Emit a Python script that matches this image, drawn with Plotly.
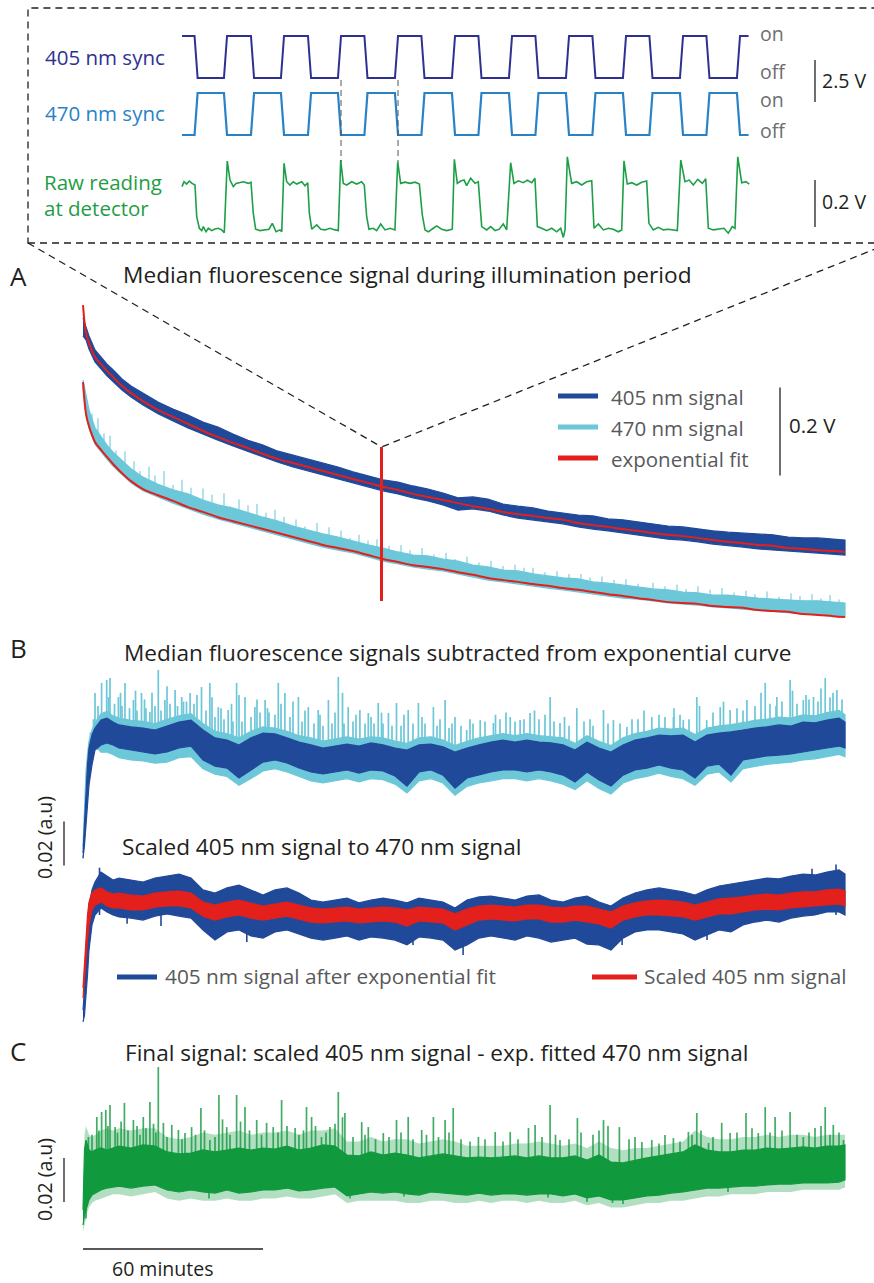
import plotly.graph_objects as go

W, H = 874, 1283
FONT = "Open Sans"

# ---------------- data ----------------
# Session time (minutes) for the long recordings
t_a = [0, 1, 2, 4, 6, 8, 10, 13, 16, 20, 25, 30, 35, 40, 45, 50, 55, 60, 65, 70, 75, 80, 85, 90, 95,
       100, 105, 110, 115, 120, 125, 130, 135, 140, 145, 150, 155, 160, 165, 170, 175, 180, 185, 190,
       195, 200, 205, 210, 215, 220, 225, 230, 235, 240, 245, 250, 254]

# Panel A: median raw fluorescence (mV), envelope of the noisy trace and exponential fits
sig405_hi = [698, 677, 657, 625, 609, 593, 580, 559, 543, 527, 507, 491, 477, 461, 450, 434, 420, 409, 395,
             386, 377, 368, 359, 348, 339, 330, 325, 316, 309, 300, 289, 291, 286, 275, 270, 266, 259, 255,
             250, 248, 241, 239, 234, 230, 225, 223, 218, 214, 211, 209, 207, 205, 200, 198, 198, 195, 193]
sig405_lo = [657, 648, 627, 598, 582, 566, 552, 534, 518, 500, 480, 464, 448, 434, 420, 407, 395, 382, 370,
             359, 350, 341, 332, 323, 314, 305, 298, 289, 282, 273, 261, 264, 259, 250, 243, 239, 234, 230,
             223, 218, 214, 209, 205, 200, 195, 193, 189, 184, 180, 177, 173, 170, 168, 166, 164, 161, 159]
fit405 = [727, 664, 641, 609, 593, 577, 564, 543, 527, 509, 489, 473, 457, 441, 427, 414, 402, 389, 377,
          368, 359, 350, 341, 332, 323, 314, 307, 298, 291, 284, 277, 270, 264, 257, 252, 248, 243, 239,
          232, 227, 223, 218, 214, 209, 205, 202, 198, 193, 189, 186, 182, 180, 175, 173, 170, 168, 166]
sig470_hi = [557, 520, 489, 448, 427, 409, 393, 373, 355, 336, 320, 307, 298, 284, 273, 266, 255, 245, 236,
             225, 216, 207, 200, 191, 182, 175, 166, 159, 157, 150, 145, 136, 132, 125, 123, 116, 111, 107,
             105, 98, 95, 91, 86, 82, 80, 75, 73, 68, 68, 64, 61, 59, 57, 55, 55, 52, 50]
sig470_lo = [543, 475, 448, 411, 393, 377, 361, 341, 323, 305, 291, 277, 264, 252, 241, 232, 223, 214, 205,
             195, 186, 177, 170, 164, 155, 145, 139, 132, 127, 123, 116, 109, 102, 98, 93, 89, 84, 80,
             75, 70, 66, 61, 59, 55, 50, 48, 45, 41, 39, 36, 32, 30, 27, 25, 23, 20, 18]
fit470 = [552, 480, 452, 416, 398, 382, 366, 345, 327, 309, 295, 282, 268, 257, 245, 236, 227, 218, 209,
          200, 191, 182, 175, 168, 159, 150, 143, 136, 132, 127, 120, 114, 107, 102, 98, 93, 89, 84,
          80, 75, 70, 66, 61, 57, 52, 50, 48, 43, 41, 39, 34, 32, 30, 25, 23, 20, 18]
spk470a_t = [5, 9, 14, 22, 27, 33, 40, 47, 52, 58, 64, 71, 78, 86, 92, 98, 106, 113, 121, 128, 136, 144,
             150, 158, 166, 173, 181, 190, 198, 205, 213, 221, 228, 236, 243, 249,
             3, 7, 11, 17, 19, 24, 30, 36, 43, 49, 55, 61, 67, 74, 82, 89, 95, 102, 109, 117, 124, 132,
             140, 147, 154, 162, 169, 177, 185, 194, 201, 209, 217, 224, 232, 239, 246, 252]
spk470a_lo = [438, 401, 367, 330, 315, 302, 284, 270, 262, 249, 238, 223, 210, 198, 187, 178, 165, 158,
              149, 140, 131, 123, 116, 108, 104, 96, 90, 82, 77, 73, 68, 63, 60, 57, 55, 52,
              468, 418, 384, 350, 340, 322, 307, 295, 279, 263, 255, 243, 230, 216, 204, 189, 180, 170,
              160, 148, 141, 134, 125, 119, 112, 106, 101, 93, 86, 79, 75, 71, 66, 62, 58, 56, 54, 51]
spk470a_hi = [470, 430, 395, 360, 350, 330, 310, 300, 285, 275, 262, 240, 232, 215, 205, 195, 182, 175,
              164, 155, 146, 137, 130, 122, 116, 110, 104, 96, 92, 88, 84, 78, 76, 72, 70, 68,
              480, 436, 396, 372, 350, 340, 318, 312, 296, 270, 272, 255, 246, 224, 222, 198, 192, 180,
              170, 160, 150, 142, 134, 130, 120, 116, 108, 102, 94, 88, 82, 80, 74, 70, 64, 66, 60, 58]
ZOOM_T = 99.5  # minute shown in the expanded raw-trace view

# Panels B and C (detrended signals, 10^-3 a.u.)
t_b = [0, 0.5, 1, 1.5, 2, 3, 4, 6, 8, 10, 12, 16, 20, 24, 28, 32, 36, 40, 44, 48, 52, 56, 60, 64, 68,
       72, 76, 80, 84, 88, 92, 96, 100, 104, 108, 112, 116, 120, 124, 128, 132, 136, 140, 144, 148,
       152, 156, 160, 164, 168, 172, 176, 180, 184, 188, 192, 196, 200, 204, 208, 212, 216, 220, 224,
       228, 232, 236, 240, 244, 248, 252, 254]

b405_hi = [-46.8, -31.8, -18.2, -6.8, 0.9, 6.8, 10.0, 13.6, 14.5, 12.7,
           11.4, 10.5, 10.0, 9.1, 10.9, 12.7, 13.6, 9.1, 5.5, 4.5,
           2.3, 5.5, 7.7, 7.3, 5.5, 3.6, 2.3, 0.9, 1.8, 2.7,
           1.8, 3.2, 2.3, 0.9, 0.0, 2.3, 2.7, 1.4, -0.9, 0.9,
           2.3, 3.6, 4.5, 3.6, 4.5, 3.6, 3.2, 2.3, 0.0, 3.6,
           0.9, -0.9, 2.3, 4.5, 5.5, 6.8, 6.4, 6.8, 3.6, 6.8,
           7.7, 8.2, 9.1, 10.0, 10.5, 11.4, 10.9, 12.7, 12.3, 13.6,
           14.5, 12.7]
b405_lo = [-49.1, -43.2, -36.4, -25.0, -15.9, -6.8, 0.0, 2.3, 3.2, 2.3,
           0.9, 0.0, -0.9, -1.8, -0.9, 0.9, 1.8, -4.5, -7.3, -8.2,
           -12.7, -9.1, -5.5, -4.5, -5.9, -8.2, -10.0, -10.9, -10.0, -9.1,
           -10.5, -9.1, -9.5, -11.8, -16.4, -10.0, -9.1, -11.4, -17.3, -12.7,
           -11.4, -10.0, -9.1, -9.1, -10.0, -9.1, -10.0, -11.4, -14.5, -10.0,
           -13.6, -16.4, -11.4, -9.1, -8.2, -6.8, -8.2, -9.1, -12.7, -7.3,
           -6.4, -11.4, -4.5, -3.6, -2.7, -2.3, -1.8, -0.9, 0.0, 0.9,
           1.8, 0.9]
b470_hi = [-44, -25, -10, -2, 4, 9, 12.5, 16.5, 17.5, 15.5,
           14.5, 13.5, 13, 12, 14, 15.5, 16.5, 12, 8.5, 7.5,
           5.5, 8.5, 10.5, 10, 8.5, 6.5, 5.5, 4, 5, 6,
           5, 6, 5.5, 4, 3, 5.5, 6, 4.5, 2, 4,
           5.5, 6.5, 7.5, 6.5, 7.5, 6.5, 6, 5.5, 3, 6.5,
           4, 2, 5.5, 7.5, 8.5, 10, 9.5, 10, 7, 10,
           11, 11.5, 12.5, 13.5, 14, 15, 14.5, 16, 15.5, 17,
           18, 16]
b470_lo = [-49.5, -40, -30, -20, -12, -4, 2, -1, -1, -2,
           -3.5, -4.5, -5, -6, -5.5, -3.5, -3, -8.5, -11, -12,
           -16, -13, -9.5, -8.5, -10, -12, -14, -15, -14, -13,
           -14.5, -13, -13.5, -15.5, -19.5, -14, -13, -15, -20.5, -16.5,
           -15, -14, -13, -13, -14, -13, -14, -15.5, -18, -14,
           -17.5, -20, -15, -13, -12, -10.5, -12, -13, -16, -11,
           -10, -14.5, -8.5, -7.5, -6.5, -6, -5.5, -4.5, -4, -3,
           -2, -3]
b470_spk_t = [4, 6.2, 7.9, 9, 11.8, 14, 16.8, 19.5, 22.3, 25.1, 27.3, 30.7, 32.9, 35.7, 39.5, 42.3, 45.1,
              48.4, 51.2, 54, 57.3, 60.7, 65.1, 67.3, 71.8, 75.1, 78.4, 81.8, 85.1, 88.4, 92.3, 95.1,
              98.4, 101.8, 104.5, 108.4, 111.8, 116.8, 120.7, 124, 127.9, 132.4, 136.8, 142.4, 145.7,
              149, 155.7, 159, 164.6, 173.5, 176.8, 181.3, 189.6, 196.8, 200.1, 204.6, 207.9, 212.4,
              215.7, 221.3, 227.4, 231.3, 235.7, 240.1, 243.5, 247.4, 251.3,
              5, 10.5, 13, 15.5, 18, 21, 24, 26, 29, 31.5, 34.5, 37, 41, 44, 47, 50, 53, 56, 59, 62,
              64, 69, 73, 77, 80, 83, 87, 90, 94, 97, 100, 103, 106, 110, 114, 118, 122, 126, 130, 134,
              139, 144, 147, 152, 157, 162, 167, 170, 179, 185, 192, 194, 199, 202, 210, 218, 224, 229,
              233, 238, 242, 245, 249, 253,
              2.5, 3.5, 8.5, 12.5, 17.5, 20.5, 23, 28, 33.5, 38, 43, 46, 49.5, 52, 58, 61.5, 66, 70, 74,
              79, 84, 86.5, 91, 96, 99.5, 107, 113, 119, 123, 129, 137.5, 141, 150.5, 154, 160.5, 169,
              175, 183, 187, 197, 205.5, 213.5, 220, 226, 231, 236.5, 241, 246, 250]
b470_spk_top = [25.9, 30.5, 31.8, 32.7, 24.1, 30.5, 22.7, 25.9, 17.3, 36.4, 22.7, 27.3, 24.1, 25.9, 28.6,
                30.5, 19.5, 18.2, 30.5, 24.1, 19.5, 22.7, 30.5, 25.9, 24.1, 19.5, 18.2, 22.7, 33.2, 19.5,
                18.2, 16.8, 21.4, 16.8, 21.4, 18.2, 21.4, 19.5, 22.7, 15.0, 9.1, 13.6, 12.3, 15.0, 13.6,
                16.8, 24.1, 12.3, 19.1, 18.2, 13.6, 10.5, 15.0, 15.0, 13.6, 24.1, 13.6, 19.5, 18.2, 22.7,
                30.5, 24.1, 31.8, 22.7, 24.1, 32.7, 27.3,
                20, 21, 20, 19, 18, 19, 20, 18, 21, 20, 22, 21, 18, 15, 14, 13, 13, 15, 17, 17,
                16, 15, 13, 12, 11, 12, 12, 13, 12, 12, 12, 11, 11, 12, 12, 11, 10, 11, 12, 13,
                14, 13, 14, 14, 13, 11, 13, 11, 12, 14, 16, 15, 16, 14, 17, 19, 20, 21, 22, 21,
                23, 22, 24, 23,
                8, 14, 24, 26, 27, 23, 26, 29, 22, 25, 24, 19, 21, 25, 23, 19, 21, 22, 18,
                16, 17, 26, 16, 15, 17, 16, 15, 14, 12, 14, 16, 17, 18, 16, 15, 14,
                12, 14, 18, 19, 20, 22, 18, 26, 20, 27, 25, 28, 26]

b2_405_hi = [-43.2, -34.1, -18.2, -4.5, 4.5, 11.4, 15.0, 19.5, 17.7, 15.9,
             16.8, 15.9, 15.0, 16.8, 17.7, 18.6, 16.8, 11.4, 10.0, 12.3,
             13.6, 11.4, 9.1, 11.4, 12.3, 10.0, 6.8, 5.9, 6.8, 7.7,
             5.5, 6.8, 7.7, 6.8, 5.5, 7.7, 6.8, 5.9, 3.2, 6.8,
             8.2, 8.6, 7.7, 6.8, 8.6, 9.1, 6.8, 5.9, 7.7, 8.6,
             5.9, 4.1, 7.7, 10.0, 11.4, 12.3, 11.4, 10.5, 9.1, 11.4,
             13.2, 14.1, 15.0, 15.9, 16.8, 16.4, 17.7, 18.6, 18.2, 19.5,
             20.5, 18.6]
b2_405_lo = [-48.6, -45.5, -38.6, -27.3, -15.9, -4.5, 0.0, 3.2, 1.4, 0.0,
             -0.9, -1.4, -2.3, -0.5, 0.5, -0.5, -1.4, -6.8, -11.4, -7.7,
             -6.8, -9.5, -10.5, -7.7, -6.8, -8.6, -10.5, -11.4, -10.5, -9.5,
             -11.4, -10.0, -10.5, -11.4, -13.6, -10.0, -10.5, -11.4, -15.9, -13.6,
             -10.5, -9.5, -10.5, -11.4, -9.5, -10.5, -12.3, -11.4, -10.5, -13.2,
             -13.6, -15.9, -10.5, -7.7, -6.8, -6.8, -7.7, -8.6, -11.4, -9.1,
             -6.8, -7.7, -4.5, -3.2, -2.3, -3.2, -1.4, -0.5, 0.0, 1.4,
             1.4, 0.0]
b2_scaled_hi = [-33.2, -22.7, -9.1, 0.0, 5.9, 10.0, 11.4, 12.3, 10.5, 9.5,
                10.0, 9.1, 8.6, 10.0, 10.5, 10.9, 10.0, 5.9, 4.5, 5.9,
                6.8, 5.5, 4.1, 5.0, 5.9, 4.5, 3.2, 2.7, 3.2, 3.6,
                2.7, 3.2, 3.6, 3.2, 2.3, 3.6, 3.2, 2.7, 0.5, 2.7,
                4.1, 4.5, 4.1, 3.6, 4.5, 4.5, 3.6, 3.2, 4.1, 4.1,
                2.7, 1.4, 4.1, 5.5, 6.4, 6.8, 6.4, 5.9, 4.5, 5.9,
                7.3, 7.7, 8.2, 9.1, 9.5, 9.1, 10.0, 10.5, 10.5, 11.4,
                11.8, 10.9]
b2_scaled_lo = [-37.7, -31.8, -20.5, -11.4, -4.5, 2.3, 4.5, 5.9, 4.1, 3.2,
                3.2, 2.3, 2.3, 3.6, 4.1, 4.1, 3.2, -0.5, -2.3, -0.9,
                0.0, -1.4, -2.3, -1.4, -0.5, -1.8, -3.2, -3.6, -3.2, -2.7,
                -3.6, -3.2, -2.7, -3.2, -5.0, -2.7, -3.2, -3.6, -6.8, -4.5,
                -2.3, -1.8, -2.3, -2.7, -1.8, -1.8, -3.2, -3.2, -2.3, -3.2,
                -4.1, -5.9, -2.3, -0.9, 0.0, 0.0, -0.5, -0.9, -2.3, -0.9,
                0.5, 0.5, 1.4, 2.3, 2.7, 2.3, 3.2, 3.6, 4.1, 4.5,
                5.0, 4.1]
b2_405_spk_t = [5.5, 14.7, 26, 54.6, 110, 126.7, 158, 175.7, 179.7, 208, 243, 251]
b2_405_spk_tip = [21.5, -4, -5, -12.3, -13.6, -18.2, -11.4, -13.6, -13.6, -11.4, 21, 23]

# final signal: dense core and the wider, lighter noise fringe around it
final_hi = [-18.2, 9.1, 13.6, 11.4, 9.1, 8.2, 9.1, 10.0, 9.1, 10.0,
            10.9, 10.0, 11.4, 10.9, 8.2, 7.3, 7.7, 9.1, 8.2, 9.1,
            10.0, 9.1, 10.0, 9.5, 10.9, 9.1, 10.0, 11.4, 10.9, 6.8,
            6.4, 8.2, 6.8, 7.7, 6.8, 5.5, 6.4, 7.3, 6.4, 5.5,
            5.9, 5.5, 5.9, 6.4, 5.5, 6.4, 5.5, 5.5, 6.4, 4.5,
            6.8, 3.6, 3.2, 4.5, 5.5, 6.4, 7.3, 8.2, 11.4, 9.1,
            8.2, 8.2, 9.1, 9.1, 10.0, 9.5, 10.0, 10.5, 10.0, 10.9,
            10.9, 11.4]
final_lo = [-25.0, -20.5, -18.2, -15.9, -13.6, -11.4, -10.5, -9.1, -8.2, -7.7,
            -7.3, -8.2, -7.3, -6.8, -9.1, -10.0, -9.1, -10.0, -10.5, -9.1,
            -10.5, -10.0, -9.1, -9.1, -8.2, -9.5, -9.1, -8.2, -7.7, -11.8,
            -10.9, -10.0, -10.5, -10.0, -10.9, -11.4, -10.0, -10.5, -10.9, -11.4,
            -10.5, -11.4, -10.9, -10.9, -11.4, -10.9, -10.9, -11.8, -10.9, -12.7,
            -11.8, -13.6, -13.6, -12.7, -11.8, -11.4, -10.5, -10.0, -9.1, -8.2,
            -8.2, -7.7, -7.3, -7.3, -6.8, -6.4, -6.4, -5.9, -5.9, -5.9,
            -5.5, -4.5]
final_fringe_hi = [-15, 16, 20, 18, 16, 15, 16, 18, 19, 18,
                   19, 18, 19, 19, 15, 14, 15, 17, 16, 17,
                   18, 16, 17, 17, 18, 16, 18, 18, 19, 13,
                   13, 15, 13, 14, 14, 12, 13, 14, 13, 11,
                   11, 11, 11, 12, 12, 13, 12, 11, 12, 10,
                   13, 10, 9, 10, 10, 11, 12, 13, 18, 15,
                   14, 14, 15, 15, 16, 15, 16, 16, 15, 16,
                   16, 16]
final_fringe_lo = [-28, -24, -22, -19, -17, -15, -14, -13, -12, -11,
                   -11, -12, -11, -10, -13, -14, -13, -14, -14, -13,
                   -14, -14, -13, -13, -12, -13, -13, -12, -11, -15,
                   -14, -14, -14, -14, -15, -15, -14, -14, -15, -15,
                   -14, -15, -14, -14, -15, -14, -15, -15, -14, -16,
                   -15, -17, -17, -16, -15, -15, -14, -14, -13, -12,
                   -12, -11, -11, -11, -10, -10, -10, -9, -9, -9,
                   -9, -8]
final_spk_t = [1.8, 4.6, 6.2, 7.6, 9, 10.7, 13.8, 16.8, 20.1, 22.3, 25.1, 26.8, 29.6, 31.8, 34, 36.2,
               39.3, 42.3, 45.3, 47.9, 51.2, 54, 57.9, 61.2, 63.4, 66.2, 70.7, 74.5, 76.2, 79.5, 82.3,
               85.1, 87.3, 92.9, 95.1, 100.1, 104.5, 108.4, 112.9, 116.8, 120.7, 123.4, 131.8, 137.4,
               142.4, 148.5, 150.7, 155.7, 159, 164.8, 173.5, 178.8, 186.3, 189.6, 194, 196.8, 201.8,
               204.6, 208.5, 212.9, 215.7, 221, 225.1, 227.4, 230.7, 235.7, 240.1, 244, 247.4, 250.1,
               253.5,
               3, 5.3, 8.3, 11.5, 12.7, 15, 18, 19, 21, 23.5, 24.3, 28, 33, 37.5, 40.5, 44, 46.5, 49,
               52.5, 55.5, 59.5, 65, 68, 72, 73.5, 77.5, 81, 84, 86.5, 90, 94, 97.5, 102, 106, 110,
               114.5, 118.5, 122, 126, 129, 134, 140, 145, 153, 157.5, 162, 166, 170, 172, 175, 182,
               184, 192, 199, 203, 206, 210, 218, 223, 229, 233, 238, 242, 246, 249, 252,
               1, 42, 89, 107, 155, 168, 176.5, 180, 215]
final_spk_tip = [15.0, 24.1, 26.4, 27.3, 29.5, 19.5, 30.5, 22.7, 24.1, 30.9, 46.8, 21.4, 20.5, 18.2,
                 16.8, 19.5, 28.2, 13.6, 34.1, 19.5, 34.1, 28.6, 22.7, 21.4, 19.5, 31.8, 19.1, 28.6,
                 24.1, 15.0, 19.5, 35.5, 25.9, 21.8, 19.5, 16.8, 22.7, 24.1, 18.2, 24.1, 22.7, 28.2,
                 15.0, 17.3, 17.3, 19.1, 20.5, 29.5, 13.6, 23.6, 22.7, 19.5, 12.7, 13.6, 15.9, 14.5,
                 17.3, 25.9, 12.3, 21.4, 16.8, 25.9, 16.8, 28.6, 24.1, 26.4, 15.0, 19.1, 28.6, 20.5,
                 13.6,
                 16, 18, 20, 17, 22, 18, 20, 16, 19, 21, 17, 15, 14, 16, 18, 15, 23, 16, 22, 18,
                 16, 17, 20, 16, 18, 20, 17, 21, 24, 15, 16, 14, 15, 17, 14, 16, 15, 17, 14, 13,
                 14, 13, 14, 15, 16, 14, 17, 16, 18, 20, 14, 15, 12, 13, 16, 18, 15, 17, 19, 17,
                 18, 16, 17, 20, 16, 17,
                 -22, -13, -13, -12, -12.5, -14.5, -15, -15.5, -10]

# Expanded view: LED sync pulses (V) and raw detector reading (V) against time (ms)
sync_t = [0, 11, 13.7, 36.8, 39.5, 60.5, 63.2, 86.8, 89.5, 110.5, 113.2, 136.8, 139.5, 160, 162.7,
          186.8, 189.5, 210, 212.7, 236.8, 239.5, 260, 262.7, 286.8, 289.5, 310, 312.7, 336.8, 339.5,
          360, 362.7, 386.8, 389.5, 410, 412.7, 436.8, 439.5, 460, 462.7, 486.8, 489.5, 497]
sync405_v = [2.5, 2.5, 0, 0, 2.5, 2.5, 0, 0, 2.5, 2.5, 0, 0, 2.5, 2.5, 0, 0, 2.5, 2.5, 0, 0, 2.5,
             2.5, 0, 0, 2.5, 2.5, 0, 0, 2.5, 2.5, 0, 0, 2.5, 2.5, 0, 0, 2.5, 2.5, 0, 0, 2.5, 2.5]
sync470_v = [0, 0, 2.5, 2.5, 0, 0, 2.5, 2.5, 0, 0, 2.5, 2.5, 0, 0, 2.5, 2.5, 0, 0, 2.5, 2.5, 0,
             0, 2.5, 2.5, 0, 0, 2.5, 2.5, 0, 0, 2.5, 2.5, 0, 0, 2.5, 2.5, 0, 0, 2.5, 2.5, 0, 0]
raw_t = [0, 1.8, 4.1, 6.4, 8.8, 11.4, 12.9, 15.2, 17.3, 18.7, 21.1, 23.1, 26.1, 28.9, 31.8, 34.8, 37.1,
         39.7, 42.1, 45.0, 47.4, 50.9, 53.8, 58.2, 60.5, 62.5, 64.6, 68.4, 72.8, 76.3, 79.2, 82.5, 86.0, 87.5,
         89.5, 91.8, 94.7, 97.6, 100.6, 105.0, 107.9, 110.3, 111.7, 113.8, 118.2, 121.7, 125.4, 129.8, 134.2, 137.1,
         139.2, 141.5, 144.5, 148.9, 153.2, 157.6, 159.9, 162.0, 164.0, 167.8, 170.8, 174.3, 178.1, 182.5, 186.8,
         189.2, 191.8, 195.6, 200.0, 204.4, 208.2, 210.8, 213.2, 216.1, 220.4, 223.4, 227.8, 232.2, 237.1,
         238.9, 241.5, 244.5, 247.4, 249.7, 253.2, 257.0, 259.9, 262.9, 267.3, 270.8, 274.6, 278.3, 281.8, 284.8,
         288.3, 291.2, 295.0, 299.4, 302.9, 306.8, 309.6, 311.7, 315.5, 319.9, 324.3, 328.7, 332.2, 334.5, 336.0,
         338.0, 341.8, 346.2, 350.6, 355.0, 359.4, 361.4, 365.2, 369.6, 374.0, 378.3, 382.7, 385.7,
         387.7, 390.6, 394.5, 398.9, 403.2, 407.6, 409.6, 413.4, 417.8, 422.2, 426.6, 431.0, 434.5,
         437.5, 441.2, 445.0, 448.5, 452.4, 456.4, 459.4, 461.7, 466.1, 470.4, 475.4, 479.2, 482.7, 485.1,
         487.5, 491.0, 494.7, 497.6]
raw_v = [0.227, 0.248, 0.238, 0.251, 0.241, 0.234, 0.099, 0.050, 0.040, 0.057, 0.035, 0.050, 0.040, 0.047, 0.050, 0.043, 0.031,
         0.336, 0.255, 0.227, 0.241, 0.244, 0.248, 0.241, 0.246, 0.114, 0.046, 0.040, 0.043, 0.046, 0.071, 0.035, 0.043, 0.035,
         0.326, 0.248, 0.234, 0.248, 0.238, 0.248, 0.231, 0.244, 0.114, 0.046, 0.064, 0.046, 0.043, 0.050, 0.043, 0.040,
         0.340, 0.241, 0.234, 0.248, 0.238, 0.248, 0.234, 0.099, 0.046, 0.050, 0.040, 0.068, 0.043, 0.050, 0.043,
         0.333, 0.241, 0.246, 0.241, 0.246, 0.238, 0.106, 0.043, 0.035, 0.050, 0.060, 0.046, 0.040, 0.046,
         0.343, 0.241, 0.251, 0.255, 0.231, 0.263, 0.241, 0.248, 0.057, 0.043, 0.057, 0.040, 0.046, 0.068, 0.043,
         0.329, 0.241, 0.252, 0.244, 0.255, 0.244, 0.263, 0.057, 0.050, 0.040, 0.050, 0.035, 0.050, 0.011, 0.043,
         0.354, 0.241, 0.248, 0.234, 0.248, 0.252, 0.050, 0.068, 0.043, 0.050, 0.046, 0.035, 0.043,
         0.337, 0.238, 0.244, 0.234, 0.246, 0.251, 0.071, 0.043, 0.054, 0.043, 0.046, 0.043, 0.040,
         0.340, 0.248, 0.255, 0.234, 0.258, 0.241, 0.261, 0.050, 0.043, 0.046, 0.050, 0.029, 0.057, 0.050,
         0.354, 0.244, 0.248, 0.238]
marker_ms = [139.5, 189.5]  # 405 nm pulse onsets highlighted in the expanded view

# ---------------- colours ----------------
C405 = "#21499a"
C470 = "#6cc7d9"
CRED = "#e3201b"
CGREEN = "#11993d"
CNAVY = "#2e3192"
CSKY = "#2a82c6"
CTEXT = "#231f20"
CGREY = "#58595b"

# ---------------- placement (pixels on the page) ----------------
T_PX0, T_PX_PER_MIN = 83.0, 3.0       # minutes axis
MS_PX0, MS_PX_PER_MS = 182.0, 1.14    # expanded view, ms axis


def fx(px):
    return px / W


def fy(py):
    return 1 - py / H


def y_range(px_zero, px_per_unit):
    return [(px_zero - H) / px_per_unit, px_zero / px_per_unit]


def band(ts, hi, lo):
    return list(ts) + list(ts)[::-1], list(hi) + list(lo)[::-1]


def spikes(ts, tips, base):
    xs, ys = [], []
    for i, t in enumerate(ts):
        b = base[i] if isinstance(base, list) else base
        xs += [t, t, None]
        ys += [b, tips[i], None]
    return xs, ys


fig = go.Figure()


def add_band(ts, hi, lo, color, yaxis, xaxis="x", edge=1.2):
    bx, by = band(ts, hi, lo)
    fig.add_trace(go.Scatter(x=bx, y=by, fill="toself", fillcolor=color, mode="lines",
                             line=dict(color=color, width=edge), xaxis=xaxis, yaxis=yaxis,
                             hoverinfo="skip"))


def add_spikes(ts, tips, base, color, yaxis, width=1.6):
    sx, sy = spikes(ts, tips, base)
    fig.add_trace(go.Scatter(x=sx, y=sy, mode="lines", line=dict(color=color, width=width),
                             xaxis="x", yaxis=yaxis, hoverinfo="skip"))


# Panel A
add_band(t_a, sig470_hi, sig470_lo, C470, "y")
add_spikes(spk470a_t, spk470a_hi, spk470a_lo, "rgba(108,199,217,0.75)", "y", width=1.4)
add_band(t_a, sig405_hi, sig405_lo, C405, "y")
for fit in (fit405, fit470):
    fig.add_trace(go.Scatter(x=t_a, y=fit, mode="lines", line=dict(color=CRED, width=2, shape="spline"),
                             xaxis="x", yaxis="y", hoverinfo="skip"))

# Panel B, top: both channels after subtracting their fits
add_band(t_b, b470_hi, b470_lo, C470, "y2")
add_spikes(b470_spk_t, b470_spk_top, 0.0, C470, "y2", width=1.7)
add_band(t_b, b405_hi, b405_lo, C405, "y2")

# Panel B, bottom: 405 nm signal and its scaled version
add_band(t_b, b2_405_hi, b2_405_lo, C405, "y3")
add_spikes(b2_405_spk_t, b2_405_spk_tip, 0.0, C405, "y3", width=1.6)
add_band(t_b, b2_scaled_hi, b2_scaled_lo, CRED, "y3")

# Panel C: final signal
add_band(t_b, final_fringe_hi, final_fringe_lo, "rgba(17,153,61,0.32)", "y4", edge=0)
add_spikes(final_spk_t, final_spk_tip, 0.0, "rgba(17,153,61,0.8)", "y4", width=1.7)
add_band(t_b, final_hi, final_lo, CGREEN, "y4")

# Expanded raw view
fig.add_trace(go.Scatter(x=sync_t, y=sync405_v, mode="lines", line=dict(color=CNAVY, width=2),
                         xaxis="x2", yaxis="y5", hoverinfo="skip"))
fig.add_trace(go.Scatter(x=sync_t, y=sync470_v, mode="lines", line=dict(color=CSKY, width=2.2),
                         xaxis="x2", yaxis="y6", hoverinfo="skip"))
fig.add_trace(go.Scatter(x=raw_t, y=raw_v, mode="lines", line=dict(color="#1d9f48", width=1.6),
                         xaxis="x2", yaxis="y7", hoverinfo="skip"))

hidden = dict(visible=False, showgrid=False, zeroline=False, fixedrange=True)
layout_axes = dict(
    xaxis=dict(range=[-T_PX0 / T_PX_PER_MIN, (W - T_PX0) / T_PX_PER_MIN], domain=[0, 1], anchor="y", **hidden),
    xaxis2=dict(range=[-MS_PX0 / MS_PX_PER_MS, (W - MS_PX0) / MS_PX_PER_MS], domain=[0, 1],
                overlaying="x", anchor="y5", **hidden),
    yaxis=dict(range=y_range(625, 0.44), domain=[0, 1], anchor="x", **hidden),
    yaxis2=dict(range=y_range(750, 2.2), domain=[0, 1], anchor="x", overlaying="y", **hidden),
    yaxis3=dict(range=y_range(915, 2.2), domain=[0, 1], anchor="x", overlaying="y", **hidden),
    yaxis4=dict(range=y_range(1170, 2.2), domain=[0, 1], anchor="x", overlaying="y", **hidden),
    yaxis5=dict(range=y_range(78, 16.8), domain=[0, 1], anchor="x2", overlaying="y", **hidden),
    yaxis6=dict(range=y_range(135, 16.8), domain=[0, 1], anchor="x2", overlaying="y", **hidden),
    yaxis7=dict(range=y_range(240, 235), domain=[0, 1], anchor="x2", overlaying="y", **hidden),
)

shapes = []
dash_style = dict(color=CTEXT, width=1.3, dash="7px,5px")
# expanded-view frame and the two lines converging on the marked minute
shapes.append(dict(type="rect", xref="paper", yref="paper", x0=fx(28), x1=1.05, y0=fy(243), y1=fy(8),
                   line=dash_style))
apex_px = T_PX0 + T_PX_PER_MIN * ZOOM_T
for cx in (28, 890):
    shapes.append(dict(type="line", xref="paper", yref="paper", x0=fx(cx), y0=fy(243),
                       x1=fx(apex_px), y1=fy(447), line=dash_style))
shapes.append(dict(type="line", xref="x", yref="paper", x0=ZOOM_T, x1=ZOOM_T, y0=fy(447), y1=fy(601),
                   line=dict(color=CRED, width=3)))
for m in marker_ms:
    shapes.append(dict(type="line", xref="x2", yref="paper", x0=m, x1=m, y0=fy(80), y1=fy(162),
                       line=dict(color="#555555", width=1, dash="6px,4px")))

bar = dict(color=CTEXT, width=1.3)
shapes += [
    dict(type="line", xref="paper", yref="y5", x0=fx(815), x1=fx(815), y0=-1.43, y1=1.07, line=bar),
    dict(type="line", xref="paper", yref="y7", x0=fx(815), x1=fx(815), y0=0.055, y1=0.255, line=bar),
    dict(type="line", xref="paper", yref="y", x0=fx(780), x1=fx(780), y0=340, y1=540, line=bar),
    dict(type="line", xref="paper", yref="y2", x0=fx(64), x1=fx(64), y0=-52.5, y1=-32.5, line=bar),
    dict(type="line", xref="paper", yref="y4", x0=fx(64), x1=fx(64), y0=-14.5, y1=5.5, line=bar),
    dict(type="line", xref="x", yref="paper", x0=0, x1=60, y0=fy(1249), y1=fy(1249), line=bar),
]
# legend swatches
for py, col in ((396, C405), (427, C470), (458, CRED)):
    shapes.append(dict(type="line", xref="paper", yref="paper", x0=fx(558), x1=fx(598), y0=fy(py), y1=fy(py),
                       line=dict(color=col, width=5)))
shapes.append(dict(type="line", xref="paper", yref="paper", x0=fx(117), x1=fx(157), y0=fy(977), y1=fy(977),
                   line=dict(color=C405, width=5)))
shapes.append(dict(type="line", xref="paper", yref="paper", x0=fx(592), x1=fx(637), y0=fy(977), y1=fy(977),
                   line=dict(color=CRED, width=5)))


def label(text, x, y, size, color=CTEXT, xanchor="left", angle=0):
    return dict(text=text, x=fx(x), y=fy(y), xref="paper", yref="paper", showarrow=False,
                xanchor=xanchor, yanchor="middle", textangle=angle,
                font=dict(family=FONT, size=size, color=color))


annotations = [
    label("405 nm sync", 167, 57, 20.5, CNAVY, "right"),
    label("470 nm sync", 167, 113, 20.5, CSKY, "right"),
    label("Raw reading", 42, 182, 20.5, "#1f9d45"),
    label("at detector", 42, 208, 20.5, "#1f9d45"),
    label("on", 758, 34, 19.5, "#6d6e71"),
    label("off", 758, 72, 19.5, "#6d6e71"),
    label("on", 758, 99, 19.5, "#6d6e71"),
    label("off", 758, 130, 19.5, "#6d6e71"),
    label("2.5 V", 820, 81, 19.5),
    label("0.2 V", 820, 201, 19.5),
    label("A", 8, 276, 26),
    label("Median fluorescence signal during illumination period", 407, 274, 22.7, CTEXT, "center"),
    label("405 nm signal", 609, 397, 20.5, CGREY),
    label("470 nm signal", 609, 428, 20.5, CGREY),
    label("exponential fit", 609, 459, 20.5, CGREY),
    label("0.2 V", 787, 425, 20.5),
    label("B", 8, 648, 26),
    label("Median fluorescence signals subtracted from exponential curve", 457, 652, 22.6, CTEXT, "center"),
    label("0.02 (a.u)", 44, 838, 19.5, CTEXT, "center", -90),
    label("Scaled 405 nm signal to 470 nm signal", 120, 846, 22.6),
    label("405 nm signal after exponential fit", 163, 976, 20.8, CGREY),
    label("Scaled 405 nm signal", 642, 976, 20.8, CGREY),
    label("C", 8, 1051, 26),
    label("Final signal: scaled 405 nm signal - exp. fitted 470 nm signal", 436, 1052, 22.6, CTEXT, "center"),
    label("0.02 (a.u)", 44, 1180, 19.5, CTEXT, "center", -90),
    label("60 minutes", 162, 1268, 19.5, CTEXT, "center"),
]

fig.update_layout(
    width=W, height=H, margin=dict(l=0, r=0, t=0, b=0),
    paper_bgcolor="white", plot_bgcolor="white", showlegend=False, hovermode=False,
    shapes=shapes, annotations=annotations, **layout_axes,
)

fig.write_html("out.html", config={"displayModeBar": False})
